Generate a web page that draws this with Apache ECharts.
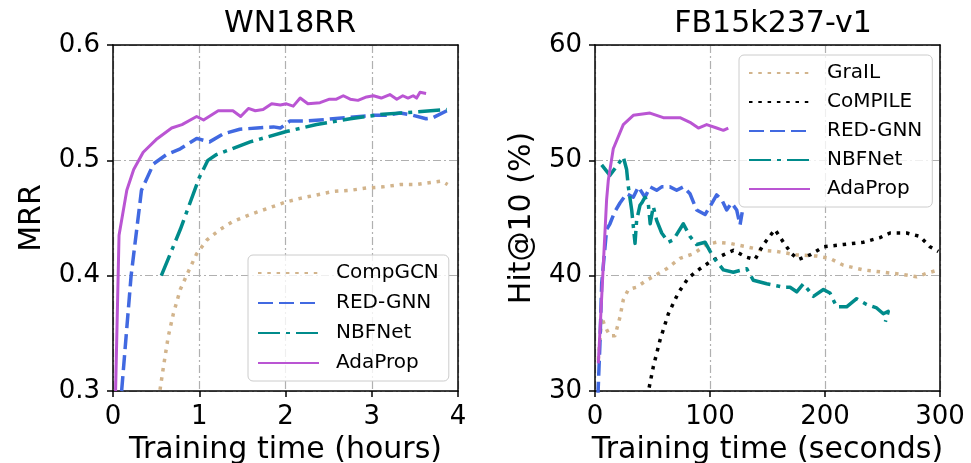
<!DOCTYPE html>
<html>
<head>
<meta charset="utf-8">
<script src="https://cdn.jsdelivr.net/npm/echarts@6/dist/echarts.min.js"></script>
<style>
html,body{margin:0;padding:0;background:#fff;}
#chart{width:971px;height:463px;}
</style>
</head>
<body>
<div id="chart"></div>
<script>
// ---- Data: WN18RR (x: training time in hours, y: MRR) ----
const compgcnWN = [[0.545,0.301],[0.585,0.321],[0.64,0.347],[0.70,0.367],[0.78,0.388],[0.87,0.403],[0.97,0.419],[1.09,0.431],[1.24,0.440],[1.39,0.447],[1.59,0.453],[1.78,0.458],[2.01,0.464],[2.17,0.467],[2.36,0.470],[2.55,0.473],[2.75,0.474],[2.94,0.476],[3.13,0.477],[3.33,0.479],[3.52,0.479],[3.71,0.481],[3.81,0.482],[3.88,0.479]];
const redgnnWN = [[0.10,0.30],[0.21,0.40],[0.33,0.474],[0.47,0.497],[0.62,0.505],[0.78,0.510],[0.97,0.519],[1.12,0.516],[1.28,0.523],[1.47,0.527],[1.67,0.528],[1.86,0.529],[1.94,0.528],[2.05,0.534],[2.21,0.534],[2.40,0.535],[2.55,0.536],[2.71,0.537],[2.86,0.538],[3.02,0.539],[3.17,0.539],[3.33,0.541],[3.48,0.539],[3.63,0.536],[3.71,0.537],[3.87,0.543]];
const nbfnetWN = [[0.56,0.40],[0.78,0.44],[1.0,0.485],[1.1,0.50],[1.2,0.505],[1.59,0.516],[2.01,0.525],[2.36,0.531],[2.75,0.536],[3.13,0.540],[3.52,0.542],[3.87,0.544]];
const adapropWN = [[0.03,0.30],[0.07,0.435],[0.16,0.474],[0.24,0.492],[0.35,0.507],[0.5,0.518],[0.68,0.528],[0.80,0.531],[0.97,0.538],[1.05,0.535],[1.22,0.543],[1.39,0.543],[1.48,0.538],[1.57,0.545],[1.65,0.543],[1.74,0.544],[1.84,0.549],[1.94,0.548],[2.01,0.549],[2.09,0.547],[2.17,0.554],[2.26,0.549],[2.40,0.550],[2.51,0.553],[2.59,0.553],[2.67,0.556],[2.75,0.553],[2.84,0.552],[2.94,0.555],[3.02,0.556],[3.11,0.554],[3.21,0.557],[3.29,0.553],[3.36,0.556],[3.42,0.554],[3.48,0.556],[3.52,0.554],[3.56,0.559],[3.63,0.558]];

// ---- Data: FB15k237-v1 (x: training time in seconds, y: Hit@10 %) ----
const grailFB = [[2.9,32.7],[5.8,36.4],[8.7,35.6],[13,34.8],[17.4,34.8],[21.7,36.4],[24.6,37.9],[29,38.8],[36.2,39.0],[44.9,39.6],[53.6,40.1],[62.3,40.6],[73.9,41.5],[85.5,41.9],[97.1,42.7],[105.8,42.9],[117.4,42.8],[131.9,42.5],[146.4,42.2],[158,42.1],[175.4,41.8],[192.8,41.7],[204.3,41.5],[216,40.9],[233.3,40.5],[250.7,40.3],[268.1,40.1],[279.7,39.9],[288.4,40.2],[298.5,40.5]];
const compileFB = [[45.5,29.5],[50.7,32.1],[56.5,34.4],[63.8,36.7],[72.4,38.5],[81.1,39.8],[91.3,40.6],[100,41.2],[111.6,41.8],[120.3,42.2],[131.9,41.6],[139.1,41.4],[146.4,42.7],[156.5,44.0],[163.8,42.9],[171,41.9],[176.8,41.4],[187,41.8],[198.6,42.5],[216,42.7],[233.3,42.9],[247.8,43.3],[256.5,43.7],[271,43.7],[282.6,43.4],[291.3,42.5],[298.5,42.1]];
const redgnnFB = [[2.5,29.5],[4.3,34.1],[5.8,39.3],[10.1,44.0],[13,44.5],[17,45.5],[21.7,46.3],[27.5,47.1],[33.3,46.8],[37.7,47.7],[43.5,46.8],[47.8,47.7],[53.6,47.4],[58,47.7],[65.2,47.7],[71,47.4],[76.8,47.7],[82.6,47.1],[88.4,45.7],[95.7,45.3],[100,46.0],[105.8,47.0],[110.1,46.6],[114.5,45.7],[118.8,46.3],[123.2,45.7],[126.1,44.4],[128,45.5]];
const nbfnetFB = [[5.8,49.6],[13,48.7],[17.4,49.3],[20.3,49.7],[24.6,50.3],[27.5,49.2],[29,47.7],[31.9,45.7],[34.8,42.8],[36.2,44.8],[39.1,46.1],[40.6,46.3],[43.5,46.8],[46.3,46.3],[48,44.5],[50.7,46.0],[53.6,44.8],[58,43.7],[63.8,42.9],[68.1,43.1],[76.8,44.5],[82.6,43.4],[88.4,42.7],[95.7,42.9],[102.9,41.6],[111.6,40.5],[120.3,40.3],[131.9,40.6],[137.7,39.6],[149.3,39.3],[163.8,39.0],[169.6,39.0],[175.4,38.6],[181.2,39.3],[189.9,38.2],[198.6,38.8],[204.3,38.5],[210.1,37.3],[218.8,37.3],[227.5,38.0],[236.2,37.5],[244.9,37.2],[250.7,36.7],[255,36.9],[252.5,36.0]];
const adapropFB = [[2.9,32.4],[10.1,46.6],[11.6,48.3],[15.9,51.0],[24.6,53.1],[26.1,53.2],[33.3,53.9],[47.8,54.1],[59.4,53.7],[73.9,53.7],[82.6,53.3],[89.9,52.8],[97.1,53.1],[105.8,52.8],[111.6,52.6],[115.9,52.8]];

// ---- Axis / labels ----
const titles = ['WN18RR', 'FB15k237-v1'];
const xNames = ['Training time (hours)', 'Training time (seconds)'];
const yNames = ['MRR', 'Hit@10 (%)'];
const legendLeft = ['CompGCN', 'RED-GNN', 'NBFNet', 'AdaProp'];
const legendRight = ['GraIL', 'CoMPILE', 'RED-GNN', 'NBFNet', 'AdaProp'];

const FONT = 'DejaVu Sans';
const C = {tan:'#D2B48C', blue:'#4169E1', teal:'#008B8B', purple:'#BA55D3', black:'#000000'};
const DOT = [3.5,5.8], DASH = [15,6], DASHDOT = [22,6,4,6];

function mkSeries(name, data, idx, color, type, width) {
  return {
    name, type:'line', data, xAxisIndex: idx, yAxisIndex: idx,
    symbol:'none', showSymbol:false, smooth:false, animation:false,
    lineStyle:{color, width: width || 3.5, type, cap:'butt', join:'round'},
    itemStyle:{color}
  };
}

const splitLine = {show:true, lineStyle:{color:'#b0b0b0', width:1.2, type:[8,3,2,3]}};
const frameLine = {show:true, onZero:false, lineStyle:{color:'#000', width:1.5}};
function xAxis(idx, max, interval, name) {
  return {
    type:'value', gridIndex: idx, min:0, max, interval, position:'bottom',
    name, nameLocation:'middle', nameGap:43,
    nameTextStyle:{fontFamily:FONT, fontSize:30, color:'#000'},
    axisLine:frameLine,
    axisTick:{show:true, length:6, lineStyle:{color:'#000', width:1.5}},
    axisLabel:{fontFamily:FONT, fontSize:26, color:'#000', margin:13},
    splitLine, z:3
  };
}
function xFrame(idx, max) {
  return {type:'value', gridIndex: idx, min:0, max, position:'top',
    axisLine:frameLine, axisTick:{show:false}, axisLabel:{show:false}, splitLine:{show:false}, z:5};
}
function yAxis(idx, min, max, interval, name, gap, fmt) {
  return {
    type:'value', gridIndex: idx, min, max, interval, position:'left',
    name, nameLocation:'middle', nameGap:gap,
    nameTextStyle:{fontFamily:FONT, fontSize:30, color:'#000'},
    axisLine:frameLine,
    axisTick:{show:true, length:6, lineStyle:{color:'#000', width:1.5}},
    axisLabel:{fontFamily:FONT, fontSize:26, color:'#000', margin:13, formatter: fmt},
    splitLine, z:3
  };
}
function yFrame(idx, min, max) {
  return {type:'value', gridIndex: idx, min, max, position:'right',
    axisLine:frameLine, axisTick:{show:false}, axisLabel:{show:false}, splitLine:{show:false}, z:5};
}
function legend(data, left, top, gap) {
  return {
    orient:'vertical', left, top, data,
    itemWidth:61, itemHeight:14, itemGap:gap,
    padding:[8,10,8,9],
    backgroundColor:'rgba(255,255,255,0.8)', borderColor:'#cccccc', borderWidth:1, borderRadius:5,
    itemStyle:{opacity:0, borderWidth:0},
    textStyle:{fontFamily:FONT, fontSize:20, color:'#000', padding:[0,0,0,12]},
    selectedMode:false, z:10
  };
}

const option = {
  animation:false,
  backgroundColor:'#ffffff',
  title:[
    {text:titles[0], left:285, top:4, textAlign:'center', textStyle:{fontFamily:FONT, fontSize:30, fontWeight:'normal', color:'#000'}},
    {text:titles[1], left:768, top:4, textAlign:'center', textStyle:{fontFamily:FONT, fontSize:30, fontWeight:'normal', color:'#000'}}
  ],
  grid:[
    {left:113, top:45, width:345, height:346, show:false, containLabel:false, outerBoundsMode:'none'},
    {left:595, top:45, width:345, height:346, show:false, containLabel:false, outerBoundsMode:'none'}
  ],
  xAxis:[ xAxis(0, 4, 1, xNames[0]), xAxis(1, 300, 100, xNames[1]), xFrame(0, 4), xFrame(1, 300) ],
  yAxis:[
    yAxis(0, 0.3, 0.6, 0.1, yNames[0], 66, v => v.toFixed(1)),
    yAxis(1, 30, 60, 10, yNames[1], 58, v => String(Math.round(v))),
    yFrame(0, 0.3, 0.6), yFrame(1, 30, 60)
  ],
  legend:[ legend(legendLeft, 248, 255, 10), legend(legendRight, 739, 55, 9) ],
  series:[
    mkSeries('CompGCN', compgcnWN, 0, C.tan, DOT),
    mkSeries('RED-GNN', redgnnWN, 0, C.blue, DASH),
    mkSeries('NBFNet', nbfnetWN, 0, C.teal, DASHDOT),
    mkSeries('AdaProp', adapropWN, 0, C.purple, 'solid', 3),
    mkSeries('GraIL', grailFB, 1, C.tan, DOT),
    mkSeries('CoMPILE', compileFB, 1, C.black, DOT),
    mkSeries('RED-GNN', redgnnFB, 1, C.blue, DASH),
    mkSeries('NBFNet', nbfnetFB, 1, C.teal, DASHDOT),
    mkSeries('AdaProp', adapropFB, 1, C.purple, 'solid', 3)
  ]
};
const chart = echarts.init(document.getElementById('chart'), null, {renderer:'canvas'});
chart.setOption(option);
</script>
</body>
</html>
